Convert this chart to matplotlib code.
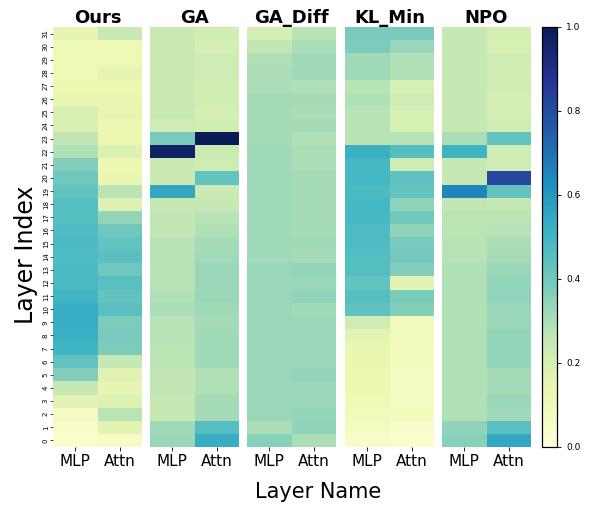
import numpy as np
import matplotlib
matplotlib.use("Agg")
import matplotlib.pyplot as plt
import seaborn as sns

methods = ["Ours", "GA", "GA_Diff", "KL_Min", "NPO"]
layer_names = ["MLP", "Attn"]
layers = list(range(32))

# values listed from layer 0 to layer 31
ours_mlp = [0.04, 0.05, 0.08, 0.17, 0.25, 0.37, 0.43, 0.50, 0.52, 0.53, 0.53, 0.50, 0.48, 0.48, 0.47, 0.48,
            0.47, 0.46, 0.46, 0.43, 0.41, 0.37, 0.29, 0.26, 0.19, 0.19, 0.14, 0.13, 0.11, 0.11, 0.11, 0.15]
ours_attn = [0.06, 0.16, 0.27, 0.18, 0.15, 0.17, 0.25, 0.38, 0.39, 0.38, 0.45, 0.43, 0.45, 0.41, 0.45, 0.43,
             0.41, 0.34, 0.18, 0.27, 0.14, 0.12, 0.18, 0.13, 0.13, 0.15, 0.14, 0.12, 0.15, 0.11, 0.11, 0.24]

ga_mlp = [0.33, 0.32, 0.25, 0.25, 0.26, 0.26, 0.27, 0.27, 0.28, 0.28, 0.30, 0.29, 0.28, 0.28, 0.28, 0.28,
          0.26, 0.26, 0.25, 0.55, 0.24, 0.24, 0.97, 0.39, 0.23, 0.24, 0.24, 0.24, 0.24, 0.24, 0.24, 0.24]
ga_attn = [0.53, 0.46, 0.31, 0.31, 0.29, 0.29, 0.32, 0.32, 0.32, 0.31, 0.32, 0.33, 0.33, 0.33, 0.32, 0.31,
           0.29, 0.28, 0.25, 0.24, 0.43, 0.23, 0.24, 1.00, 0.22, 0.21, 0.22, 0.22, 0.23, 0.23, 0.21, 0.22]

gadiff_mlp = [0.36, 0.30, 0.33, 0.33, 0.33, 0.33, 0.33, 0.33, 0.33, 0.33, 0.33, 0.33, 0.33, 0.33, 0.32, 0.32,
              0.32, 0.32, 0.32, 0.32, 0.32, 0.32, 0.32, 0.31, 0.31, 0.31, 0.31, 0.30, 0.30, 0.29, 0.26, 0.21]
gadiff_attn = [0.30, 0.35, 0.34, 0.33, 0.33, 0.34, 0.33, 0.33, 0.33, 0.33, 0.32, 0.35, 0.33, 0.34, 0.31, 0.32,
               0.31, 0.31, 0.31, 0.31, 0.31, 0.30, 0.30, 0.29, 0.31, 0.30, 0.31, 0.29, 0.32, 0.32, 0.30, 0.28]

klmin_mlp = [0.05, 0.08, 0.10, 0.11, 0.12, 0.12, 0.14, 0.14, 0.16, 0.23, 0.44, 0.46, 0.43, 0.46, 0.46, 0.47,
             0.47, 0.49, 0.49, 0.48, 0.49, 0.49, 0.52, 0.28, 0.28, 0.28, 0.29, 0.28, 0.32, 0.32, 0.38, 0.39]
klmin_attn = [0.04, 0.05, 0.09, 0.08, 0.08, 0.08, 0.09, 0.09, 0.10, 0.10, 0.37, 0.38, 0.16, 0.37, 0.40, 0.39,
              0.35, 0.40, 0.35, 0.43, 0.44, 0.23, 0.46, 0.28, 0.20, 0.20, 0.23, 0.20, 0.29, 0.29, 0.33, 0.39]

npo_mlp = [0.36, 0.35, 0.29, 0.29, 0.29, 0.29, 0.29, 0.29, 0.29, 0.29, 0.29, 0.29, 0.29, 0.29, 0.28, 0.28,
           0.27, 0.27, 0.26, 0.65, 0.25, 0.25, 0.51, 0.30, 0.25, 0.25, 0.25, 0.25, 0.25, 0.25, 0.25, 0.25]
npo_attn = [0.55, 0.45, 0.32, 0.33, 0.31, 0.31, 0.34, 0.34, 0.34, 0.33, 0.33, 0.35, 0.34, 0.33, 0.31, 0.30,
            0.28, 0.27, 0.25, 0.43, 0.82, 0.23, 0.23, 0.43, 0.22, 0.21, 0.21, 0.22, 0.22, 0.22, 0.20, 0.21]

series = {
    "Ours": (ours_mlp, ours_attn),
    "GA": (ga_mlp, ga_attn),
    "GA_Diff": (gadiff_mlp, gadiff_attn),
    "KL_Min": (klmin_mlp, klmin_attn),
    "NPO": (npo_mlp, npo_attn),
}

W, H = 592, 505
fig = plt.figure(figsize=(W / 100, H / 100), dpi=100)

top_px, bot_px = 27, 447
ax_h = (bot_px - top_px) / H
ax_b = (H - bot_px) / H
lefts = [53, 150, 247, 345, 442]
ax_w = 89 / W

cbar_ax = fig.add_axes([542 / W, ax_b, 15 / W, ax_h])

for i, m in enumerate(methods):
    ax = fig.add_axes([lefts[i] / W, ax_b, ax_w, ax_h])
    mlp, attn = series[m]
    data = np.column_stack([mlp, attn])[::-1]  # layer 31 at top
    sns.heatmap(data, ax=ax, cmap="YlGnBu", vmin=0, vmax=1,
                cbar=(i == 0), cbar_ax=cbar_ax if i == 0 else None,
                xticklabels=layer_names,
                yticklabels=[str(l) for l in layers[::-1]] if i == 0 else False)
    ax.set_title(m, fontsize=13, fontweight="bold", pad=3)
    ax.tick_params(axis="x", labelsize=11, length=3, width=0.6, pad=2, rotation=0)
    if i == 0:
        ax.tick_params(axis="y", labelsize=5, length=2, width=0.5, pad=1, rotation=90)
    else:
        ax.tick_params(axis="y", left=False)

cbar_ax.tick_params(labelsize=6.5, length=3, width=0.6)
cbar_ax.set_yticks([0, 0.2, 0.4, 0.6, 0.8, 1.0])
cbar_ax.set_yticklabels(["0.0", "0.2", "0.4", "0.6", "0.8", "1.0"])
for s in cbar_ax.spines.values():
    s.set_visible(True)
    s.set_linewidth(0.8)
    s.set_edgecolor("black")

fig.text(26 / W, (H - 255) / H, "Layer Index", rotation=90, fontsize=17,
         ha="center", va="center")
fig.text(318 / W, (H - 492) / H, "Layer Name", fontsize=15, ha="center", va="center")

fig.savefig("out.png", dpi=100)
